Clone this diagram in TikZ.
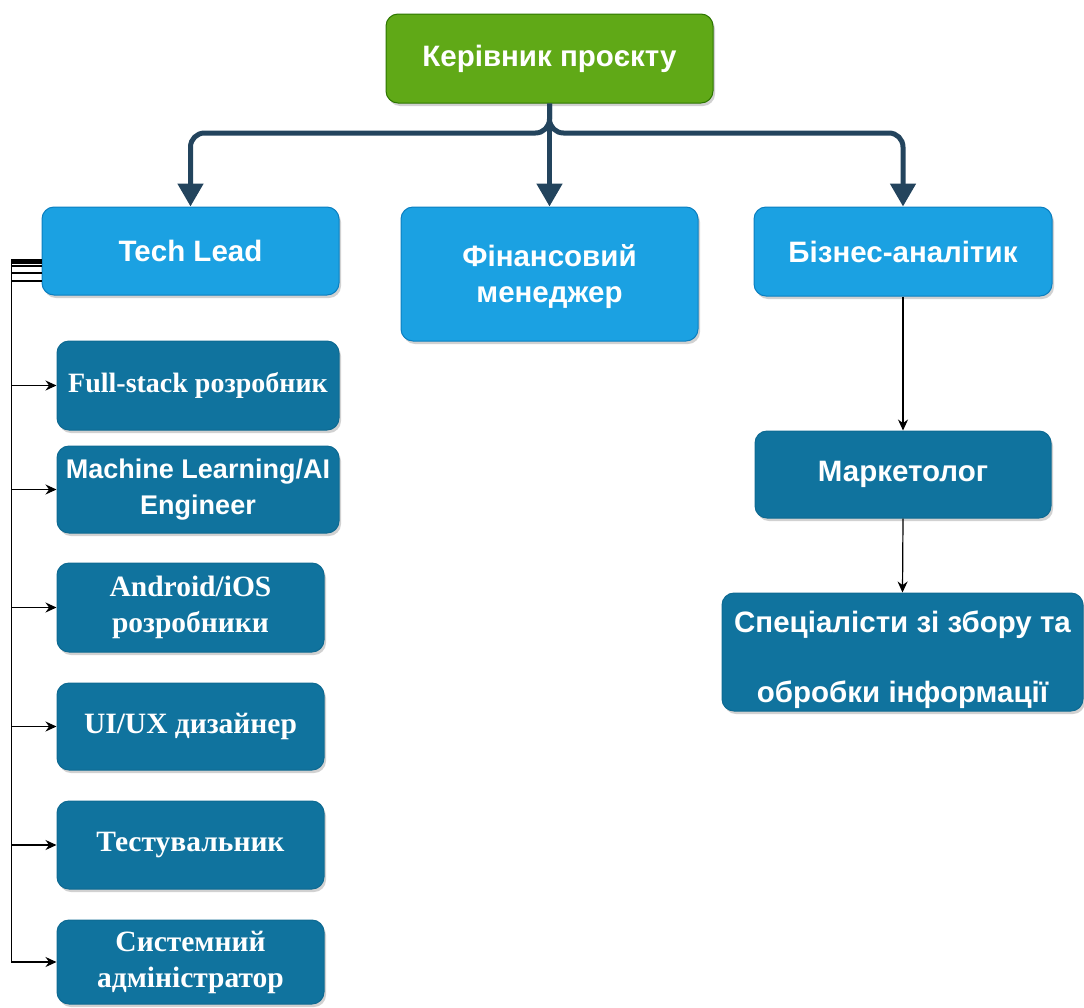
\documentclass[tikz,border=0pt]{standalone}
\usepackage{fontspec}
\setmainfont{Liberation Serif}
\setsansfont{Liberation Sans}
\usetikzlibrary{arrows.meta,shadows}

\definecolor{leadgreen}{HTML}{60A917}
\definecolor{leadgreenline}{HTML}{2D7600}
\definecolor{mainblue}{HTML}{1BA1E2}
\definecolor{mainblueline}{HTML}{0B7FC0}
\definecolor{teamblue}{HTML}{10739E}
\definecolor{teamblueline}{HTML}{0E6A92}
\definecolor{trunkblue}{HTML}{23445D}

\begin{document}
\begin{tikzpicture}[x=1pt,y=-1pt,
  box/.style={rounded corners=12pt, draw, line width=1pt, text=white,
    align=center, inner sep=0pt,
    drop shadow={shadow xshift=2pt, shadow yshift=-3pt, opacity=0.3, fill=black!60}},
  sansbox/.style={box, font=\sffamily\bfseries\fontsize{29.5}{36}\selectfont},
  serifbox/.style={box, font=\rmfamily\bfseries\fontsize{29.5}{36}\selectfont},
  headbox/.style={sansbox, fill=leadgreen, draw=leadgreenline},
  rolebox/.style={sansbox, fill=mainblue, draw=mainblueline},
  teambox/.style={fill=teamblue, draw=teamblueline},
  trunk/.style={draw=trunkblue, line width=5pt, rounded corners=14pt,
    -{Triangle[width=25pt,length=23pt]}},
  link/.style={draw=black, line width=1.2pt, -{Stealth[length=11pt,width=10pt]}},
  branch/.style={draw=black, line width=1.2pt, -{Stealth[length=11pt,width=10pt]}}
]
\useasboundingbox (0,0) rectangle (1084,1007);

% top level
\node[headbox, minimum width=327pt, minimum height=89pt] (head) at (549.5,58.5) {Керівник проєкту};

% second level
\node[rolebox, minimum width=297pt, minimum height=88pt] (tl) at (190.5,251) {Tech Lead};
\node[rolebox, minimum width=297pt, minimum height=134pt] (fin) at (549.5,274)
  {\rule{0pt}{28pt}Фінансовий\\менеджер};
\node[rolebox, minimum width=298pt, minimum height=89pt] (ba) at (903,251.5) {Бізнес-аналітик};

% development team
\node[box, teambox, font=\rmfamily\bfseries\fontsize{28}{36}\selectfont,
  minimum width=282pt, minimum height=89pt] (fs) at (198,385.5) {Full-stack розробник};
\node[box, teambox, font=\sffamily\bfseries\fontsize{27}{36}\selectfont,
  minimum width=282pt, minimum height=87pt] (ml) at (198,489.5) {Machine Learning/AI\\Engineer};
\node[serifbox, teambox, minimum width=267pt, minimum height=89pt] (mob) at (190.5,607.5) {Android/iOS\\розробники};
\node[serifbox, teambox, minimum width=267pt, minimum height=87pt] (ux) at (190.5,726.5) {UI/UX дизайнер};
\node[serifbox, teambox, minimum width=267pt, minimum height=88pt] (qa) at (190.5,845) {Тестувальник};
\node[serifbox, teambox, minimum width=267pt, minimum height=84pt] (sys) at (190.5,962) {Системний\\адміністратор};

% analytics branch
\node[sansbox, teambox, minimum width=296pt, minimum height=87pt] (mk) at (903,474.5) {Маркетолог};
\node[sansbox, teambox, minimum width=361pt, minimum height=118pt] (sp) at (902.5,652)
  {\rule{0pt}{38pt}Спеціалісти зі збору та\\[34pt]обробки інформації};

% main trunk from the project lead
\coordinate (bus) at (549.5,133);
\draw[trunk] (head.south) -- (bus) -| (tl.north);
\draw[trunk] (head.south) -- (fin.north);
\draw[trunk] (head.south) -- (bus) -| (ba.north);

% analytics chain
\draw[link] (ba.south) -- (mk.north);
\draw[link] (mk.south) -- (sp.north);

% tech lead fan-out along the left rail
\draw[branch] ([yshift=-9pt]tl.west) -- ++(-30,0) |- (fs.west);
\draw[branch] ([yshift=-10pt]tl.west) -- ++(-30,0) |- (ml.west);
\draw[branch] ([yshift=-12pt]tl.west) -- ++(-30,0) |- (mob.west);
\draw[branch] ([yshift=-15pt]tl.west) -- ++(-30,0) |- (ux.west);
\draw[branch] ([yshift=-22pt]tl.west) -- ++(-30,0) |- (qa.west);
\draw[branch] ([yshift=-30pt]tl.west) -- ++(-30,0) |- (sys.west);
\end{tikzpicture}
\end{document}
